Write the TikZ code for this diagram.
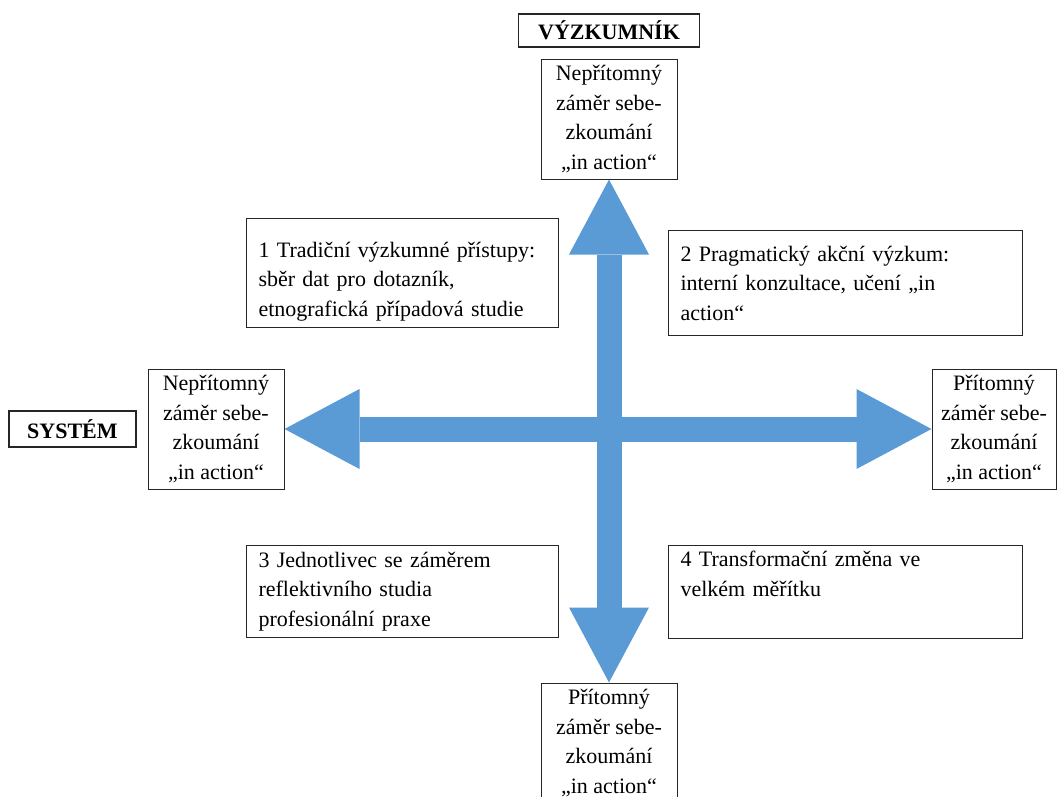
\documentclass[tikz,border=0pt]{standalone}
\usepackage{fontspec}
\setmainfont{Liberation Serif}
\usetikzlibrary{arrows.meta,positioning}
\definecolor{arrblue}{HTML}{5B9BD5}
\definecolor{edge}{HTML}{262626}

\begin{document}
\begin{tikzpicture}[x=1pt,y=-1pt,
  every node/.style={font=\fontsize{22}{29.5}\selectfont},
  pole/.style={draw=edge,line width=1pt,align=center,minimum height=120pt,
    inner sep=0pt},
  side/.style={draw=edge,line width=1.2pt,font=\fontsize{22}{29.5}\selectfont\bfseries,
    inner xsep=0pt,inner ysep=0pt},
  quad/.style={draw=edge,line width=1pt,anchor=north west,align=left,
    inner xsep=12pt,inner ysep=6pt},
  bigarr/.style={line width=25pt,draw=arrblue,
    arrows={Triangle[length=75pt 0,width=80pt 0,line width=0pt]-Triangle[length=75pt 0,width=80pt 0,line width=0pt]}}]
\useasboundingbox (0,0) rectangle (1058,796);
% four poles round the cross
\node[pole,minimum width=136pt] (top) at (609,119) {Nepřítomný\\záměr sebe-\\zkoumání\\„in action“};
\node[pole,minimum width=136pt] (lft) at (216,429) {Nepřítomný\\záměr sebe-\\zkoumání\\„in action“};
\node[pole,minimum width=124pt] (rgt) at (994,429) {Přítomný\\záměr sebe-\\zkoumání\\„in action“};
\node[pole,minimum width=136pt] (bot) at (609,743) {Přítomný\\záměr sebe-\\zkoumání\\„in action“};
\node[side,minimum width=181pt,minimum height=33pt,above=11pt of top] (res) {VÝZKUMNÍK};
\node[side,minimum width=127pt,minimum height=36pt,left=11pt of lft] (sys) {SYSTÉM};
% quadrants
\node[quad,text width=288pt,minimum height=109pt,text height=32pt] (q1) at (246,218)
  {1 Tradiční výzkumné přístupy:\\sběr dat pro dotazník,\\etnografická případová studie};
\node[quad,text width=330pt,minimum height=105pt] (q2) at (668,230)
  {2 Pragmatický akční výzkum:\\interní konzultace, učení „in\\action“};
\node[quad,text width=288pt,minimum height=92pt] (q3) at (246,545)
  {3 Jednotlivec se záměrem\\reflektivního studia\\profesionální praxe};
\node[quad,text width=330pt,minimum height=92pt,text depth=65pt] (q4) at (668,545)
  {4 Transformační změna ve\\velkém měřítku};
% the cross
\draw[bigarr] (lft) -- (rgt);
\draw[bigarr] (top) -- (bot);
\end{tikzpicture}
\end{document}
